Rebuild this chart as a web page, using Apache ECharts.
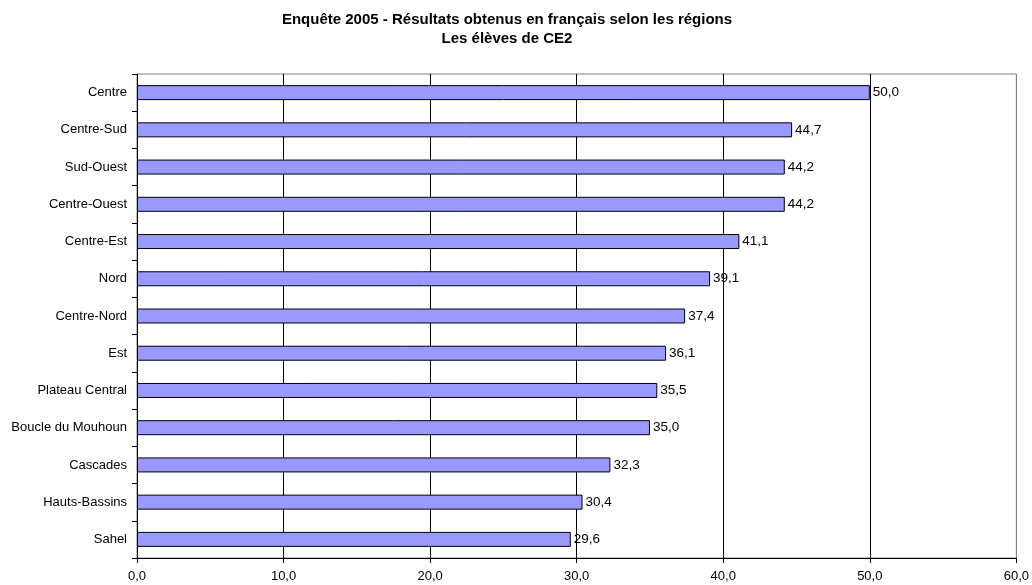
<!DOCTYPE html>
<html>
<head>
<meta charset="utf-8">
<script src="https://cdn.jsdelivr.net/npm/echarts@6/dist/echarts.min.js"></script>
<style>html,body{margin:0;padding:0;background:#fff}#c{width:1032px;height:585px}</style>
</head>
<body>
<div id="c"></div>
<script>
const categories = ['Centre','Centre-Sud','Sud-Ouest','Centre-Ouest','Centre-Est','Nord','Centre-Nord','Est','Plateau Central','Boucle du Mouhoun','Cascades','Hauts-Bassins','Sahel'];
const values = [50.0,44.7,44.2,44.2,41.1,39.1,37.4,36.1,35.5,35.0,32.3,30.4,29.6];
const titleText = 'Enquête 2005 - Résultats obtenus en français selon les régions\nLes élèves de CE2';
const fmt = v => Number(v).toFixed(1).replace('.', ',');
const font = '"Liberation Sans", Arial, sans-serif';

const chart = echarts.init(document.getElementById('c'), null, {renderer: 'canvas'});
chart.setOption({
  animation: false,
  backgroundColor: '#fff',
  title: {
    text: titleText,
    left: 502, top: 5, textAlign: 'center',
    textStyle: {fontFamily: font, fontSize: 15, fontWeight: 'bold', color: '#000', lineHeight: 19}
  },
  grid: {left: 137, right: 15, top: 74, bottom: 27, show: true, borderColor: '#808080', borderWidth: 1},
  xAxis: {
    type: 'value', min: 0, max: 60, interval: 10,
    axisLine: {show: true, lineStyle: {color: '#000', width: 1}},
    axisTick: {show: true, length: 5, lineStyle: {color: '#000'}},
    axisLabel: {formatter: fmt, fontFamily: font, fontSize: 13, color: '#000', margin: 12},
    splitLine: {show: true, lineStyle: {color: ['#000','#000','#000','#000','#000','#000','#808080'], width: 1}}
  },
  yAxis: {
    type: 'category', data: categories, inverse: true,
    axisLine: {show: true, lineStyle: {color: '#000', width: 1}},
    axisTick: {show: true, length: 5, inside: false, lineStyle: {color: '#000'}},
    axisLabel: {fontFamily: font, fontSize: 13, color: '#000', margin: 10},
    splitLine: {show: false}
  },
  series: [{
    type: 'bar', data: values, barWidth: 15,
    itemStyle: {color: '#9999FF', borderColor: '#000', borderWidth: 1},
    label: {show: true, position: 'right', distance: 3, formatter: p => fmt(p.value), fontFamily: font, fontSize: 13.5, color: '#000'}
  }]
});
</script>
</body>
</html>
